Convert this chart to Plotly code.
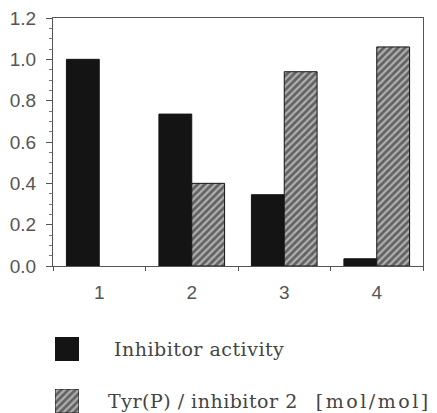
import plotly.graph_objects as go

categories = ["1", "2", "3", "4"]
inhibitor_activity = [1.0, 0.735, 0.345, 0.035]
tyr_p_ratio = [None, 0.40, 0.94, 1.06]
y_ticks = [0.0, 0.2, 0.4, 0.6, 0.8, 1.0, 1.2]
legend_labels = ["Inhibitor activity", "Tyr(P) / inhibitor 2", "[mol/mol]"]

W, H = 437, 413
def px_x(x):
    return x / W
def px_y(y):
    return (H - y) / H

BLACK = "#141414"
HATCH = dict(shape="/", fgcolor="#141414", bgcolor="#b0b0b0", size=5, solidity=0.55)
tick_font = dict(family="Liberation Sans, Arial, sans-serif", size=19, color="#555555")
legend_font = dict(family="DejaVu Serif, serif", size=19, color="#444444")

fig = go.Figure()
fig.add_trace(go.Bar(
    x=categories, y=inhibitor_activity, name=legend_labels[0],
    marker=dict(color=BLACK, line=dict(color=BLACK, width=1)),
    xaxis="x", yaxis="y", showlegend=False,
))
fig.add_trace(go.Bar(
    x=categories, y=tyr_p_ratio, name=legend_labels[1] + "  " + legend_labels[2],
    marker=dict(color="#b0b0b0", pattern=HATCH, line=dict(color=BLACK, width=1)),
    xaxis="x", yaxis="y", showlegend=False,
))

# legend swatches drawn as bars on tiny dedicated axes
fig.add_trace(go.Bar(
    x=[0], y=[1], width=[1], xaxis="x2", yaxis="y2", showlegend=False,
    marker=dict(color=BLACK, line=dict(color=BLACK, width=1)), hoverinfo="skip",
))
fig.add_trace(go.Bar(
    x=[0], y=[1], width=[1], xaxis="x3", yaxis="y3", showlegend=False,
    marker=dict(color="#b0b0b0", pattern=HATCH, line=dict(color=BLACK, width=1)), hoverinfo="skip",
))

hidden = dict(visible=False, fixedrange=True, automargin=False)

label1 = '<span style="letter-spacing:0.5px">' + legend_labels[0] + '</span>'
label2 = ('<span style="letter-spacing:0.5px">' + legend_labels[1] + '</span>'
          + '&nbsp;&nbsp;&nbsp;'
          + '<span style="letter-spacing:2.5px">' + legend_labels[2] + '</span>')

fig.update_layout(
    width=W, height=H, autosize=False,
    margin=dict(l=0, r=0, t=0, b=0, pad=0, autoexpand=False),
    paper_bgcolor="white", plot_bgcolor="white",
    barmode="group", bargap=0.29, bargroupgap=0,
    xaxis=dict(
        domain=[px_x(53), px_x(423)], anchor="y", automargin=False,
        type="category", range=[-0.5, 3.5],
        showline=True, linecolor="#555555", linewidth=1, mirror=True,
        ticks="outside", tickson="boundaries", ticklen=4, tickcolor="#555555",
        tickfont=tick_font, ticklabelstandoff=9, showgrid=False, zeroline=False,
    ),
    yaxis=dict(
        domain=[px_y(266), px_y(18)], anchor="x", automargin=False,
        range=[0, 1.2], tickvals=y_ticks, tickformat=".1f",
        showline=True, linecolor="#555555", linewidth=1, mirror=True,
        ticks="outside", ticklen=6, tickcolor="#555555",
        minor=dict(dtick=0.05, ticks="outside", ticklen=3, tickcolor="#777777"),
        tickfont=tick_font, ticklabelstandoff=6, showgrid=False, zeroline=False,
    ),
    xaxis2=dict(domain=[px_x(55), px_x(79)], anchor="y2", range=[-0.5, 0.5], **hidden),
    yaxis2=dict(domain=[px_y(361), px_y(337)], anchor="x2", range=[0, 1], **hidden),
    xaxis3=dict(domain=[px_x(55), px_x(79)], anchor="y3", range=[-0.5, 0.5], **hidden),
    yaxis3=dict(domain=[px_y(413), px_y(389)], anchor="x3", range=[0, 1], **hidden),
    annotations=[
        dict(text=label1, x=px_x(112), y=px_y(349), xref="paper", yref="paper",
             xanchor="left", yanchor="middle", showarrow=False, font=legend_font),
        dict(text=label2, x=px_x(106), y=px_y(401), xref="paper", yref="paper",
             xanchor="left", yanchor="middle", showarrow=False, font=legend_font),
    ],
)

fig.write_html(
    "out.html",
    config={"displayModeBar": False},
    post_script="document.body.style.margin='0';document.body.style.overflow='hidden';",
)
